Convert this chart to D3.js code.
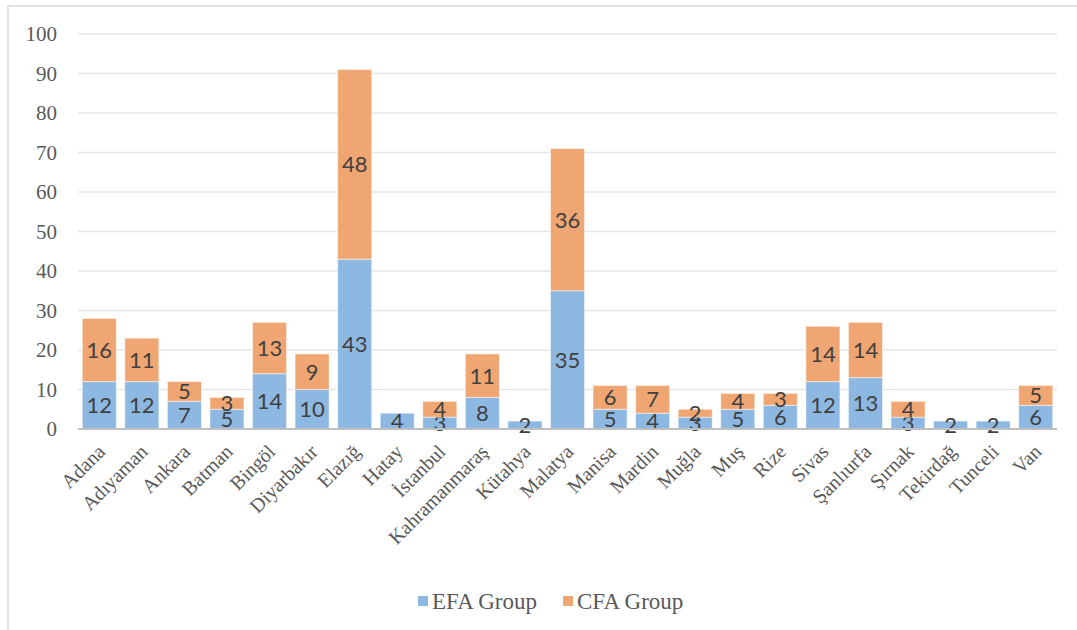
<!DOCTYPE html>
<html>
<head>
<meta charset="utf-8">
<script src="https://cdn.jsdelivr.net/npm/d3@7"></script>
<style>
  body { margin: 0; background: #fff; }
</style>
</head>
<body>
<div id="chart"></div>
<script>
var cities = ["Adana", "Adıyaman", "Ankara", "Batman", "Bingöl", "Diyarbakır", "Elazığ", "Hatay",
  "İstanbul", "Kahramanmaraş", "Kütahya", "Malatya", "Manisa", "Mardin", "Muğla", "Muş", "Rize",
  "Sivas", "Şanlıurfa", "Şırnak", "Tekirdağ", "Tunceli", "Van"];
var efa = [12, 12, 7, 5, 14, 10, 43, 4, 3, 8, 2, 35, 5, 4, 3, 5, 6, 12, 13, 3, 2, 2, 6];
var cfa = [16, 11, 5, 3, 13, 9, 48, 0, 4, 11, 0, 36, 6, 7, 2, 4, 3, 14, 14, 4, 0, 0, 5];
var yTicks = [0, 10, 20, 30, 40, 50, 60, 70, 80, 90, 100];
var seriesNames = ["EFA Group", "CFA Group"];
var colors = ["#8db8e2", "#f0a672"];

var width = 1077, height = 630;
var margin = { top: 34, right: 20, bottom: 201, left: 78 };
var serif = "Liberation Serif, serif";

var svg = d3.select("#chart").append("svg")
  .attr("width", width).attr("height", height);

// outer frame
svg.append("rect")
  .attr("x", 8).attr("y", 6).attr("width", width + 20).attr("height", height + 20)
  .attr("fill", "none").attr("stroke", "#d9d9d9").attr("stroke-width", 1.5);

var x = d3.scaleBand().domain(cities).range([margin.left, width - margin.right]).paddingInner(0.2).paddingOuter(0.1);
var y = d3.scaleLinear().domain([0, 100]).range([height - margin.bottom, margin.top]);

// gridlines
svg.append("g").selectAll("line").data(yTicks.slice(1)).enter().append("line")
  .attr("x1", margin.left).attr("x2", width - margin.right)
  .attr("y1", function(d) { return y(d); }).attr("y2", function(d) { return y(d); })
  .attr("stroke", "#e6e6e6").attr("stroke-width", 1.5);

var rows = cities.map(function(c, i) { return { city: c, efa: efa[i], cfa: cfa[i] }; });
var stacked = d3.stack().keys(["efa", "cfa"])(rows);

var layer = svg.append("g").selectAll("g").data(stacked).enter().append("g")
  .attr("fill", function(d, i) { return colors[i]; });

layer.selectAll("rect").data(function(d) { return d; }).enter().append("rect")
  .filter(function(d) { return d[1] - d[0] > 0; })
  .attr("x", function(d) { return x(d.data.city); })
  .attr("width", x.bandwidth())
  .attr("y", function(d) { return y(d[1]); })
  .attr("height", function(d) { return y(d[0]) - y(d[1]); })
  .attr("stroke", "#fff").attr("stroke-opacity", 0.5).attr("stroke-width", 1);

layer.selectAll("text").data(function(d) { return d; }).enter().append("text")
  .filter(function(d) { return d[1] - d[0] > 0; })
  .attr("x", function(d) { return x(d.data.city) + x.bandwidth() / 2; })
  .attr("y", function(d) { return (y(d[0]) + y(d[1])) / 2; })
  .attr("dy", "0.36em")
  .attr("text-anchor", "middle")
  .attr("fill", "#404040")
  .attr("font-family", "Lato, sans-serif")
  .attr("font-size", 22)
  .text(function(d) { return d[1] - d[0]; });

// y axis
var yAxis = svg.append("g")
  .attr("transform", "translate(" + margin.left + ",0)")
  .call(d3.axisLeft(y).tickValues(yTicks).tickSize(0).tickPadding(21));
yAxis.attr("font-family", serif).attr("font-size", 21);
yAxis.select(".domain").remove();
yAxis.selectAll("text").attr("fill", "#595959");

// x axis
var xAxis = svg.append("g")
  .attr("transform", "translate(0," + y(0) + ")")
  .call(d3.axisBottom(x).tickSize(0).tickSizeOuter(0));
xAxis.attr("font-family", serif).attr("font-size", 20);
xAxis.select(".domain").attr("stroke", "#bfbfbf").attr("stroke-width", 2)
  .attr("d", "M" + margin.left + ",0H" + (width - margin.right));
xAxis.selectAll("text")
  .attr("fill", "#595959")
  .attr("text-anchor", "end")
  .attr("y", 0)
  .attr("dy", "0.35em")
  .attr("transform", "translate(2,19) rotate(-45)");

// legend
var legend = svg.append("g").attr("transform", "translate(418,601)");
var item = legend.selectAll("g").data(seriesNames).enter().append("g")
  .attr("transform", function(d, i) { return "translate(" + (i * 145) + ",0)"; });
item.append("rect").attr("x", 0).attr("y", -5).attr("width", 10).attr("height", 10)
  .attr("fill", function(d, i) { return colors[i]; });
item.append("text").attr("x", 14).attr("dy", "0.35em")
  .attr("fill", "#595959")
  .attr("font-family", serif).attr("font-size", 23)
  .text(function(d) { return d; });
</script>
</body>
</html>
